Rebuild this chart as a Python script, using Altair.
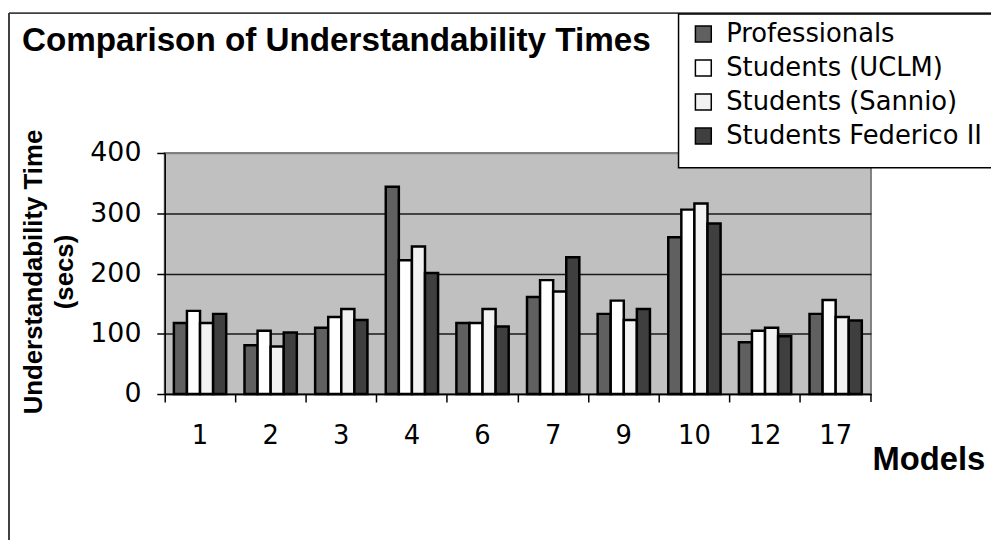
import altair as alt
import pandas as pd

models = ["1", "2", "3", "4", "6", "7", "9", "10", "12", "17"]
groups = ["Professionals", "Students (UCLM)", "Students (Sannio)", "Students Federico II"]
professionals = [118, 81, 110, 344, 118, 161, 133, 260, 86, 133]
students_uclm = [138, 105, 128, 222, 118, 189, 155, 306, 105, 156]
students_sannio = [118, 79, 141, 245, 141, 170, 123, 316, 110, 128]
students_federico = [133, 102, 123, 201, 112, 227, 141, 283, 96, 122]
colors = ["#606060", "#ffffff", "#f2f2f2", "#3f3f3f"]
title_text = "Comparison of Understandability Times"

rows = []
for g, vals in zip(groups, [professionals, students_uclm, students_sannio, students_federico]):
    for m, v in zip(models, vals):
        rows.append({"Model": m, "Group": g, "Time": v})
df = pd.DataFrame(rows)

W, H = 712, 243

bars = alt.Chart(df).mark_bar(stroke="black", strokeWidth=2.5).encode(
    x=alt.X("Model:N", sort=models,
            scale=alt.Scale(paddingInner=0, paddingOuter=0),
            axis=alt.Axis(title="Models", titleX=W + 1, titleY=76, titleAlign="left",
                          titleBaseline="alphabetic", titleFont="Liberation Sans",
                          titleFontSize=33, titleFontWeight="bold", titleColor="black",
                          labelAngle=0, labelFont="DejaVu Sans", labelFontSize=26,
                          labelColor="black", labelPadding=21, labelBaseline="top",
                          bandPosition=0,
                          tickSize=8, tickColor="black", tickWidth=1.5,
                          domainColor="black", domainWidth=1.5, grid=False)),
    xOffset=alt.XOffset("Group:N", sort=groups, scale=alt.Scale(paddingInner=0, paddingOuter=0.7)),
    y=alt.Y("Time:Q", scale=alt.Scale(domain=[0, 400], nice=False),
            axis=alt.Axis(title=["Understandability Time", "(secs)"], values=[0, 100, 200, 300, 400],
                          titleX=-124, titleY=H / 2 - 2, titleAngle=270, titleAlign="center",
                          titleBaseline="alphabetic", titleLineHeight=31,
                          titleFont="Liberation Sans", titleFontSize=26, titleFontWeight="bold",
                          titleColor="black",
                          labelFont="DejaVu Sans", labelFontSize=27, labelColor="black",
                          labelPadding=16, tickSize=8, tickColor="black", tickWidth=1.5,
                          domainColor="black", domainWidth=1.5,
                          grid=True,
                          gridColor={"condition": {"test": "datum.value === 400", "value": "#808080"},
                                     "value": "#1a1a1a"},
                          gridWidth=1.6)),
    color=alt.Color("Group:N", sort=groups, scale=alt.Scale(domain=groups, range=colors),
                    legend=alt.Legend(title=None, orient="none", legendX=530, legendY=-133,
                                      symbolType="square", symbolSize=256,
                                      symbolStrokeColor="black", symbolStrokeWidth=1.5,
                                      labelFont="DejaVu Sans", labelFontSize=26,
                                      labelColor="black", labelOffset=10, rowPadding=8.3,
                                      labelLimit=400, padding=0)),
)

dummy = pd.DataFrame({"a": [0]})
legend_box = alt.Chart(dummy).mark_rect(fill="white", stroke="black", strokeWidth=1.5).encode(
    x=alt.value(518), x2=alt.value(860), y=alt.value(-140), y2=alt.value(15))
frame_left = alt.Chart(dummy).mark_rule(color="#404040", strokeWidth=2).encode(
    x=alt.value(-157), y=alt.value(-141), y2=alt.value(400))
frame_top = alt.Chart(dummy).mark_rule(color="#404040", strokeWidth=2).encode(
    x=alt.value(-157), x2=alt.value(860), y=alt.value(-141))
end_tick = alt.Chart(dummy).mark_rule(color="black", strokeWidth=1.5).encode(
    x=alt.value(W), y=alt.value(H), y2=alt.value(H + 8))
title = alt.Chart(dummy).mark_text(align="left", baseline="alphabetic", font="Liberation Sans",
                                   fontSize=33.5, fontWeight="bold", color="black").encode(
    x=alt.value(-144), y=alt.value(-103), text=alt.value(title_text))

chart = alt.layer(frame_left, frame_top, bars, legend_box, end_tick, title).properties(
    width=W, height=H,
    autosize=alt.AutoSizeParams(type="none"),
    padding={"left": 158, "top": 144, "right": 121, "bottom": 145},
).configure(background="white").configure_view(fill="#c0c0c0", stroke="#808080", strokeWidth=2)

chart.save("out.html", embed_options={"renderer": "svg", "actions": False})
